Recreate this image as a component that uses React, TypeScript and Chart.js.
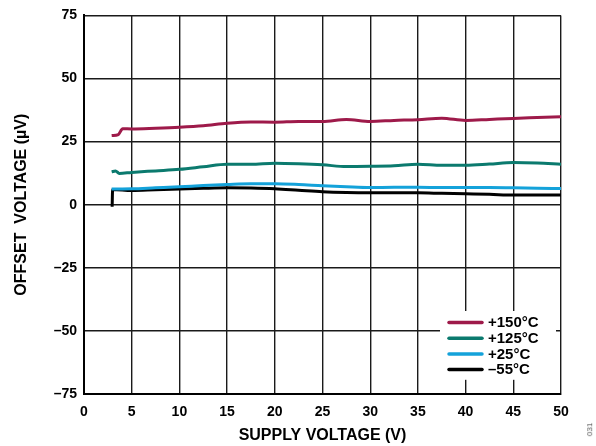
import React, { useEffect, useRef } from "react";
import { Chart, registerables } from "chart.js";

Chart.register(...registerables);

const seriesLabels = ["+150°C", "+125°C", "+25°C", "–55°C"];
const seriesColors = ["#9E1A4A", "#0B7A6E", "#14A2DA", "#000000"];

const v150 = [2.9, 3.6, 4.05, 5, 7.5, 10, 12.5, 15, 17.5, 20, 22.5, 25, 27.5, 30, 32.5, 35, 37.5, 40, 42.5, 45, 47.5, 50];
const y150 = [27.4, 27.8, 30.1, 30, 30.3, 30.7, 31.3, 32.3, 32.8, 32.7, 33, 33, 33.8, 33, 33.4, 33.7, 34.3, 33.4, 33.8, 34.2, 34.5, 34.8];

const v125 = [2.9, 3.3, 3.7, 5, 7.5, 10, 12.5, 15, 17.5, 20, 22.5, 25, 27.5, 30, 32.5, 35, 37.5, 40, 42.5, 45, 47.5, 50];
const y125 = [13, 13.4, 12.4, 12.8, 13.4, 14, 15, 16, 16, 16.4, 16.2, 15.8, 15.1, 15.2, 15.4, 16, 15.6, 15.6, 16.1, 16.7, 16.5, 16];

const v25 = [2.9, 5, 7.5, 10, 12.5, 15, 17.5, 20, 22.5, 25, 27.5, 30, 32.5, 35, 37.5, 40, 42.5, 45, 47.5, 50];
const y25 = [6.2, 6.3, 6.7, 7.1, 7.6, 8, 8.3, 8.3, 8, 7.5, 7.1, 6.8, 6.9, 6.9, 6.8, 6.8, 6.8, 6.7, 6.5, 6.4];

const vM55 = [2.95, 3, 5, 7.5, 10, 12.5, 15, 17.5, 20, 22.5, 25, 27.5, 30, 32.5, 35, 37.5, 40, 42.5, 45, 47.5, 50];
const yM55 = [-0.8, 6, 5.6, 5.9, 6.2, 6.5, 6.7, 6.6, 6.3, 5.7, 5.1, 4.8, 4.7, 4.7, 4.7, 4.5, 4.3, 4.1, 3.8, 3.8, 3.8];

const xTicks = [0, 5, 10, 15, 20, 25, 30, 35, 40, 45, 50];
const yTicks = [-75, -50, -25, 0, 25, 50, 75];

const FONT = "'Liberation Sans', Arial, Helvetica, sans-serif";

const legendPlugin = {
  id: "insideLegend",
  afterDraw(chart: any) {
    const ctx = chart.ctx;
    const area = chart.chartArea;
    const boxRight = area.right - 5;
    const boxLeft = 440;
    const boxTop = 311;
    const rowH = 15.7;
    ctx.save();
    ctx.fillStyle = "#ffffff";
    ctx.fillRect(boxLeft, boxTop, boxRight - boxLeft, rowH * 4 + 6);
    ctx.font = `bold 15px ${FONT}`;
    ctx.textBaseline = "middle";
    ctx.textAlign = "left";
    chart.data.datasets.forEach((ds: any, i: number) => {
      const y = boxTop + 11.5 + i * rowH;
      ctx.strokeStyle = ds.borderColor;
      ctx.lineWidth = 3.5;
      ctx.lineCap = "round";
      ctx.beginPath();
      ctx.moveTo(449, y);
      ctx.lineTo(482, y);
      ctx.stroke();
      ctx.fillStyle = "#000";
      ctx.fillText(ds.label, 488, y + 0.5);
    });
    ctx.restore();
  },
};

function toPoints(xs: number[], ys: number[]) {
  return xs.map((x, i) => ({ x, y: ys[i] }));
}

export default function App() {
  const ref = useRef<HTMLCanvasElement | null>(null);
  useEffect(() => {
    if (!ref.current) return;
    const seriesX = [v150, v125, v25, vM55];
    const seriesY = [y150, y125, y25, yM55];
    const chart = new Chart(ref.current, {
      type: "line",
      data: {
        datasets: seriesLabels.map((label, i) => ({
          label,
          data: toPoints(seriesX[i], seriesY[i]),
          borderColor: seriesColors[i],
          backgroundColor: seriesColors[i],
          borderWidth: 3,
          pointRadius: 0,
          cubicInterpolationMode: "monotone" as const,
          fill: false,
        })),
      },
      options: {
        animation: false,
        responsive: false,
        maintainAspectRatio: false,
        layout: { padding: { top: 13, right: 35, left: 0, bottom: 0 } },
        plugins: { legend: { display: false }, tooltip: { enabled: false } },
        scales: {
          x: {
            type: "linear",
            min: 0,
            max: 50,
            afterBuildTicks: (s: any) => {
              s.ticks = xTicks.map((v) => ({ value: v }));
            },
            afterFit: (s: any) => {
              s.height = 52;
            },
            ticks: {
              padding: 10,
              color: "#000",
              font: { family: FONT, size: 14, weight: "bold" },
              callback: (v: any) => String(v),
            },
            grid: { color: "#1a1a1a", lineWidth: 1.4, drawTicks: false },
            border: { color: "#000", width: 2 },
            title: {
              display: true,
              text: "SUPPLY VOLTAGE (V)",
              color: "#000",
              font: { family: FONT, size: 16, weight: "bold" },
              padding: { top: 4, bottom: 1 },
            },
          },
          y: {
            type: "linear",
            min: -75,
            max: 75,
            afterBuildTicks: (s: any) => {
              s.ticks = yTicks.map((v) => ({ value: v }));
            },
            afterFit: (s: any) => {
              s.width = 84;
            },
            ticks: {
              padding: 7,
              color: "#000",
              font: { family: FONT, size: 14, weight: "bold" },
              callback: (v: any) => String(v).replace("-", "–"),
            },
            grid: { color: "#1a1a1a", lineWidth: 1.4, drawTicks: false },
            border: { color: "#000", width: 2 },
            title: {
              display: true,
              text: "OFFSET  VOLTAGE (µV)",
              color: "#000",
              font: { family: FONT, size: 16, weight: "bold" },
              padding: { top: 12, bottom: 0 },
            },
          },
        },
      },
      plugins: [legendPlugin],
    });
    return () => chart.destroy();
  }, []);

  return (
    <div style={{ position: "fixed", left: 0, top: 0, width: 596, height: 446, background: "#fff" }}>
      <canvas ref={ref} width={596} height={446} style={{ width: 596, height: 446, display: "block" }} />
      <div
        style={{
          position: "absolute",
          left: 583,
          top: 425,
          fontFamily: FONT,
          fontSize: 8,
          color: "#555",
          transform: "rotate(-90deg)",
          transformOrigin: "center",
        }}
      >
        031
      </div>
    </div>
  );
}
